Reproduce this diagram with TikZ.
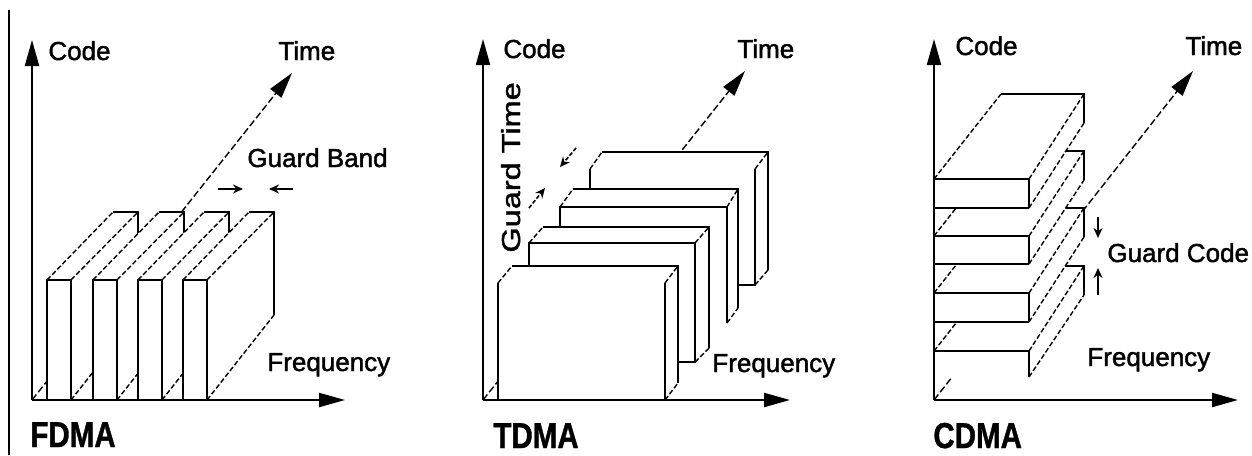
\documentclass[tikz,border=0pt]{standalone}
\usepackage{fontspec}
\setmainfont{Liberation Sans}
\newfontfamily\labelfont[FakeBold=1.6]{Liberation Sans}
\newfontfamily\titlefont[FakeStretch=0.82,FakeBold=1]{Liberation Sans}
\newfontfamily\tallfont[FakeStretch=1.25,FakeBold=1.6]{Liberation Sans}
\usetikzlibrary{arrows.meta}

\begin{document}
\begin{tikzpicture}[x=0.5pt,y=-0.5pt,
    axis/.style={line width=1.1pt,-{Triangle[length=13pt,width=7pt]}},
    timeaxis/.style={line width=0.7pt,dash pattern=on 3.5pt off 1.5pt,-{Triangle[length=13pt,width=7pt]}},
    edge/.style={line width=1.1pt},
    depth/.style={line width=0.7pt,dash pattern=on 2.5pt off 1.2pt},
    guard/.style={line width=0.8pt,-{Stealth[length=5pt,width=4.5pt]}},
    lbl/.style={anchor=base west,inner sep=0pt,font=\labelfont\fontsize{13}{15}\selectfont},
    title/.style={anchor=base west,inner sep=0pt,font=\titlefont\bfseries\fontsize{18}{20}\selectfont}]
    \useasboundingbox (0,0) rectangle (1252,455);
    \draw[line width=0.6pt] (9,10) -- (9,455);

    % FDMA
    \coordinate (f0) at (32,400);
    \coordinate (fcode) at (32,40);
    \coordinate (ffreq) at (345,400);
    \coordinate (ftime) at (292,73);
    \draw[timeaxis] (f0) -- (ftime);
    \foreach \a in {47,93,138,183} {
        \fill[white] (\a,400) -- (\a,280) -- ({\a+66},212) -- ({\a+91},212) -- ({\a+91},315) -- ({\a+24},400) -- cycle;
        \draw[edge] (\a,400) rectangle ({\a+24},280);
        \draw[edge] ({\a+66},212) -- ({\a+91},212) -- ({\a+91},315);
        \draw[depth] (\a,280) -- ({\a+66},212);
        \draw[depth] ({\a+24},280) -- ({\a+91},212);
        \draw[depth] ({\a+24},400) -- ({\a+91},315);
    }
    \draw[axis] (f0) -- (fcode);
    \draw[axis] (f0) -- (ffreq);
    \coordinate (gb1) at (218,189);
    \coordinate (gb2) at (243,189);
    \coordinate (gb3) at (293,189);
    \coordinate (gb4) at (269,189);
    \draw[guard] (gb1) -- (gb2);
    \draw[guard] (gb3) -- (gb4);
    \node[lbl] (fcodel) at (48,60) {Code};
    \node[lbl] (ftimel) at (278,60) {Time};
    \node[lbl] (fguard) at (247,167) {Guard Band};
    \node[lbl] (ffreql) at (267,371) {Frequency};
    \node[title] (fdma) at (30,447) {FDMA};

    % TDMA
    \coordinate (t0) at (483,400);
    \coordinate (tcode) at (483,39);
    \coordinate (tfreq) at (790,400);
    \coordinate (ttime) at (745,71);
    \draw[timeaxis] (t0) -- (ttime);
    % slab 4 (back)
    \fill[white] (590,285) -- (590,169) -- (602,152) -- (768,152) -- (768,270) -- (755,285) -- cycle;
    \draw[edge] (590,285) -- (590,169);
    \draw[edge] (602,152) -- (768,152) -- (768,270);
    \draw[edge] (755,169) -- (755,285) -- (590,285);
    \draw[depth] (590,169) -- (602,152);
    \draw[depth] (755,169) -- (768,152);
    \draw[depth] (755,285) -- (768,270);
    % slab 3
    \fill[white] (560,323) -- (560,207) -- (573,189) -- (738,189) -- (738,308) -- (727,323) -- cycle;
    \draw[edge] (560,323) -- (560,207) -- (727,207) -- (727,323);
    \draw[edge] (573,189) -- (738,189) -- (738,308);
    \draw[depth] (560,207) -- (573,189);
    \draw[depth] (727,207) -- (738,189);
    \draw[depth] (727,323) -- (738,308);
    % slab 2
    \fill[white] (529,362) -- (529,243) -- (543,227) -- (709,227) -- (709,348) -- (695,362) -- cycle;
    \draw[edge] (529,362) rectangle (695,243);
    \draw[edge] (543,227) -- (709,227) -- (709,348);
    \draw[depth] (529,243) -- (543,227);
    \draw[depth] (695,243) -- (709,227);
    \draw[depth] (695,362) -- (709,348);
    % slab 1 (front)
    \fill[white] (498,400) -- (498,283) -- (512,266) -- (678,266) -- (678,383) -- (665,400) -- cycle;
    \draw[edge] (498,400) -- (498,283);
    \draw[edge] (665,283) -- (665,400);
    \draw[edge] (512,266) -- (678,266) -- (678,383);
    \draw[depth] (498,283) -- (512,266);
    \draw[depth] (665,283) -- (678,266);
    \draw[depth] (665,400) -- (678,383);
    \draw[axis] (t0) -- (tcode);
    \draw[axis] (t0) -- (tfreq);
    \coordinate (gt1) at (576,148);
    \coordinate (gt2) at (560,167);
    \coordinate (gt3) at (529,208);
    \coordinate (gt4) at (545,188);
    \draw[guard,dash pattern=on 2pt off 1pt] (gt1) -- (gt2);
    \draw[guard,dash pattern=on 2pt off 1pt] (gt3) -- (gt4);
    \node[lbl] (tcodel) at (503,58) {Code};
    \node[lbl] (ttimel) at (737,58) {Time};
    \node[lbl,rotate=90,font=\tallfont\fontsize{13}{15}\selectfont] (tguard) at (520,253) {Guard Time};
    \node[lbl] (tfreql) at (712,372) {Frequency};
    \node[title] (tdma) at (493,448) {TDMA};

    % CDMA
    \coordinate (c0) at (934,400);
    \coordinate (ccode) at (934,39);
    \coordinate (cfreq) at (1238,400);
    \coordinate (ctime) at (1193,71);
    \draw[timeaxis] (c0) -- (ctime);
    \foreach \t/\b in {351/377,293/322,236/264,179/208} {
        \fill[white] (934,\b) -- (934,\t) -- (1001,{\t-85}) -- (1084,{\t-85}) -- (1084,{\t-56}) -- (1029,\b) -- cycle;
        \draw[edge] (934,\t) -- (1029,\t) -- (1029,\b);
        \ifnum\t=351\else\draw[edge] (1029,\b) -- (934,\b);\fi
        \draw[edge] (1001,{\t-85}) -- (1084,{\t-85}) -- (1084,{\t-56});
        \draw[depth] (934,\t) -- (1001,{\t-85});
        \draw[depth] (1029,\t) -- (1084,{\t-85});
        \draw[depth] (1029,\b) -- (1084,{\t-56});
    }
    \draw[axis] (c0) -- (ccode);
    \draw[axis] (c0) -- (cfreq);
    \coordinate (gc1) at (1098,217);
    \coordinate (gc2) at (1098,238);
    \coordinate (gc3) at (1098,295);
    \coordinate (gc4) at (1098,268);
    \draw[guard] (gc1) -- (gc2);
    \draw[guard] (gc3) -- (gc4);
    \node[lbl] (ccodel) at (955,55) {Code};
    \node[lbl] (ctimel) at (1185,55) {Time};
    \node[lbl] (cguard) at (1107,262) {Guard Code};
    \node[lbl] (cfreql) at (1087,366) {Frequency};
    \node[title] (cdma) at (933,448) {CDMA};
\end{tikzpicture}
\end{document}
